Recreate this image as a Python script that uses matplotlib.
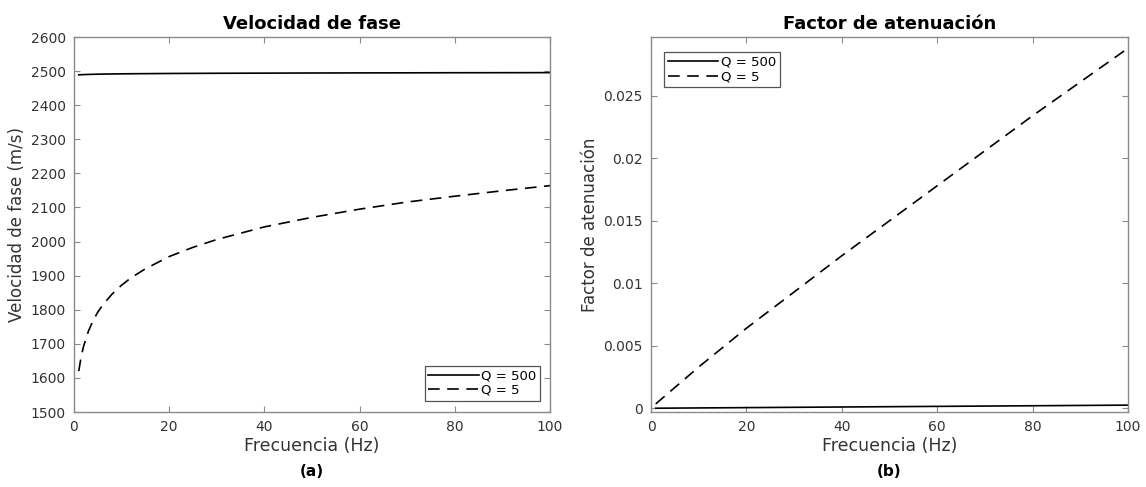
import numpy as np
import matplotlib
matplotlib.use("Agg")
import matplotlib.pyplot as plt

# frecuencias (Hz) y valores
freq = [1, 1.5, 2, 3, 4, 5, 6, 8, 10, 12, 15, 20, 25, 30, 40, 50, 60, 70, 80, 90, 100]
vel_q5 = [1620, 1662, 1692, 1736, 1768, 1793, 1813, 1846, 1872, 1894, 1920, 1956,
          1983, 2006, 2043, 2071, 2095, 2116, 2133, 2149, 2164]
vel_q500 = [2489, 2489.4, 2489.7, 2490.2, 2490.6, 2490.9, 2491.2, 2491.6, 2491.9, 2492.2,
            2492.5, 2493.0, 2493.3, 2493.6, 2494.0, 2494.4, 2494.7, 2494.9, 2495.2, 2495.3, 2495.5]

freq_at = [1, 10, 20, 40, 60, 80, 100]
aten_q5 = [0.00035, 0.0033, 0.0064, 0.0122, 0.0178, 0.0234, 0.0288]
aten_q500 = [0.0000025, 0.000025, 0.00005, 0.0001, 0.00015, 0.0002, 0.00025]

labels = ["Q = 500", "Q = 5"]

plt.rcParams['font.family'] = 'DejaVu Sans'

fig = plt.figure(figsize=(11.46, 4.87), dpi=100)
W, H = 1146, 487
ax1 = fig.add_axes([74/W, 1-412/H, (550-74)/W, (412-37)/H])
ax2 = fig.add_axes([651/W, 1-412/H, (1128-651)/W, (412-37)/H])

def estilo(ax):
    for s in ax.spines.values():
        s.set_color('#8a8a8a')
        s.set_linewidth(1.0)
    ax.tick_params(direction='in', top=True, right=True, length=4, width=0.8,
                   color='#8a8a8a', labelcolor='#333333', labelsize=10, pad=6)
    ax.set_xlim(0, 100)
    ax.set_xticks([0, 20, 40, 60, 80, 100])
    ax.set_xlabel("Frecuencia (Hz)", fontsize=12.5, color='#333333', labelpad=2)

# (a) velocidad de fase
ax1.plot(freq, vel_q500, color='black', lw=1.2, label=labels[0])
ax1.plot(freq, vel_q5, color='black', lw=1.2, ls=(0, (7, 4.5)), label=labels[1])
estilo(ax1)
ax1.set_ylim(1500, 2600)
ax1.set_yticks(np.arange(1500, 2601, 100))
ax1.set_ylabel("Velocidad de fase (m/s)", fontsize=12, color='#333333', labelpad=3)
ax1.set_title("Velocidad de fase", fontsize=13, fontweight='bold', pad=6)
leg1 = ax1.legend(loc='lower right', bbox_to_anchor=(0.98, 0.03), fontsize=9.5,
                  handlelength=3.8, handletextpad=0.2, borderpad=0.3, labelspacing=0.1,
                  fancybox=False, framealpha=1, borderaxespad=0)
leg1.get_frame().set_edgecolor('#555555')
leg1.get_frame().set_linewidth(0.9)

# (b) factor de atenuacion
ax2.plot(freq_at, aten_q500, color='black', lw=1.2, label=labels[0])
ax2.plot(freq_at, aten_q5, color='black', lw=1.2, ls=(0, (7, 4.5)), label=labels[1])
estilo(ax2)
ax2.set_ylim(-0.0003, 0.0297)
ax2.set_yticks([0, 0.005, 0.01, 0.015, 0.02, 0.025])
ax2.set_yticklabels(["0", "0.005", "0.01", "0.015", "0.02", "0.025"])
ax2.set_ylabel("Factor de atenuación", fontsize=12, color='#333333', labelpad=3)
ax2.set_title("Factor de atenuación", fontsize=13, fontweight='bold', pad=6)
leg2 = ax2.legend(loc='upper left', bbox_to_anchor=(0.027, 0.96), fontsize=9.5,
                  handlelength=3.8, handletextpad=0.2, borderpad=0.3, labelspacing=0.1,
                  fancybox=False, framealpha=1, borderaxespad=0)
leg2.get_frame().set_edgecolor('#555555')
leg2.get_frame().set_linewidth(0.9)

fig.text((74+550)/2/W, 1-472/H, "(a)", ha='center', va='center', fontsize=11, fontweight='bold')
fig.text((651+1128)/2/W, 1-472/H, "(b)", ha='center', va='center', fontsize=11, fontweight='bold')

fig.savefig("out.png", dpi=100)
